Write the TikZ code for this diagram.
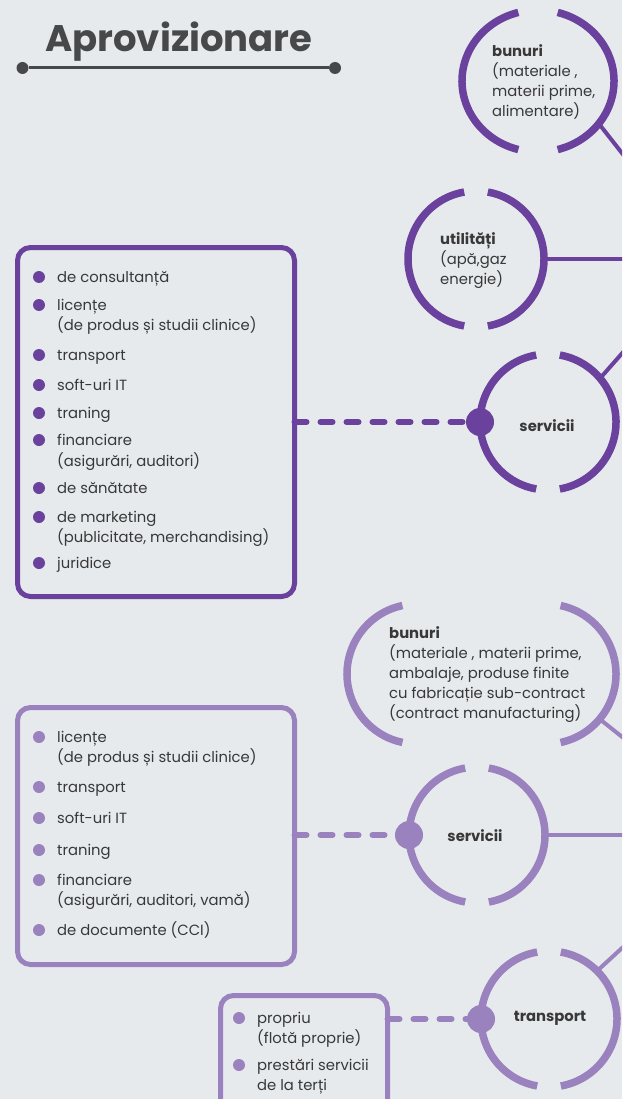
\documentclass[tikz,border=0pt]{standalone}
\usepackage{fontspec}
\setmainfont{Poppins}
\usetikzlibrary{shapes.geometric}
\definecolor{bgcol}{HTML}{E7EAED}
\definecolor{violetA}{HTML}{6A419D}
\definecolor{violetB}{HTML}{9A82BE}
\definecolor{inkcol}{HTML}{383838}
\definecolor{titlecol}{HTML}{474849}
\tikzset{ring/.style = {line width = 7.5, line cap = butt},
  link/.style = {line width = 4},
  dashlink/.style = {line width = 6, line cap = round, dash pattern = on 12 off 14},
  listbox/.style = {draw, line width = 5, rounded corners = 13, inner sep = 0, outer sep = 0},
  hole/.style = {circle, inner sep = 0, outer sep = 0, minimum size = 136},
  knob/.style = {fill, circle, inner sep = 0, minimum size = 28},
  blt/.style = {fill, circle, inner sep = 0, minimum size = 12},
  item/.style = {inner sep = 0, text = inkcol, font = \fontsize{14.8}{20}\selectfont},
  lbl/.style = {inner sep = 0, text = inkcol, align = left, font = \fontsize{14.8}{20}\selectfont},
  tag/.style = {inner sep = 0, text = inkcol, font = \fontsize{14.8}{20}\selectfont\bfseries}}
% ring with a gap at top and bottom: node, x radius, y radius, half gap, colour
\newcommand{\gapring}[5]{%
  \draw [ring, #5] (#1.center) ++(90+#4:#2 and #3) arc (90+#4:270-#4:#2 and #3);
  \draw [ring, #5] (#1.center) ++(-90+#4:#2 and #3) arc (-90+#4:90-#4:#2 and #3);
}

\begin{document}
\begin{tikzpicture}[x=1pt, y=1pt]
    \fill [bgcol] (0, 0) rectangle (622, -1099);
    \useasboundingbox (0, 0) rectangle (622, -1099);
    \clip (0, 0) rectangle (622, -1099);

    % title
    \node [anchor=base west, inner sep=0, text=titlecol, font=\fontsize{37}{44}\selectfont\bfseries] (title) at (45, -52) {Aprovizionare};
    \node [circle, fill=titlecol, inner sep=0, minimum size=12] (tl) at (22.5, -68) {};
    \node [circle, fill=titlecol, inner sep=0, minimum size=12] (tr) at (335, -68) {};
    \draw [titlecol, line width=3] (tl) -- (tr);

    % off-page hubs
    \coordinate (hubA) at (705, -259);
    \coordinate (hubB) at (745, -835);

    % first group
    \node [hole, ellipse, minimum width=152, minimum height=142] (bunA) at (538, -81) {};
    \node [hole] (util) at (476, -259) {};
    \node [hole] (servA) at (548, -422) {};
    \draw [link, violetA] (bunA.-35) -- (hubA);
    \draw [link, violetA] (util.east) -- (hubA);
    \draw [link, violetA] (servA.40) -- (hubA);
    \gapring{bunA}{76}{71}{15}{violetA}
    \gapring{util}{68}{68}{10}{violetA}
    \gapring{servA}{68}{68}{10}{violetA}

    \node [lbl, anchor=west] (tBunA) at (492, -82) {\textbf{bunuri}\\(materiale ,\\materii prime,\\alimentare)};
    \node [lbl, anchor=west] (tUtil) at (440, -261) {\textbf{utilități}\\(apă,gaz\\energie)};
    \node [tag] (tServA) at (547, -426) {servicii};

    \node [listbox, violetA, minimum width=277, minimum height=349] (listA) at (156, -422) {};
    \node [knob, violetA] (dotA) at (servA.west) {};
    \draw [dashlink, violetA] (listA.east |- dotA) -- (dotA);
    \foreach \y/\t [count=\i] in {282/{de consultanță}, 310/{licențe}, 330/{(de produs și studii clinice)}, 360/{transport}, 390/{soft-uri IT}, 418/{traning}, 445/{financiare}, 466/{(asigurări, auditori)}, 493/{de sănătate}, 522/{de marketing}, 542/{(publicitate, merchandising)}, 568/{juridice}}
      \node [item, anchor=base west] (a\i) at (57, -\y) {\t};
    \foreach \y [count=\i] in {277, 305, 355, 385, 413, 440, 488, 517, 563}
      \node [blt, violetA] (ba\i) at (39, -\y) {};

    % second group
    \node [hole, minimum size=140] (bunBw) at (417, -674) {};
    \node [hole, minimum size=140] (bunBe) at (546, -674) {};
    \node [hole] (servB) at (477, -835) {};
    \node [hole] (transp) at (549, -1019) {};
    \draw [link, violetB] (bunBe.-40) -- (hubB);
    \draw [link, violetB] (servB.east) -- (hubB);
    \draw [link, violetB] (transp.45) -- (hubB);
    \draw [ring, violetB] (bunBw.center) ++(102:70) arc (102:258:70);
    \draw [ring, violetB] (bunBe.center) ++(-78:70) arc (-78:78:70);
    \gapring{servB}{68}{68}{10}{violetB}
    \gapring{transp}{68}{68}{10}{violetB}

    \node [lbl, anchor=west] (tBunB) at (389, -675) {\textbf{bunuri}\\(materiale , materii prime,\\ambalaje, produse finite\\cu fabricație sub-contract\\(contract manufacturing)};
    \node [tag] (tServB) at (475, -836) {servicii};
    \node [tag] (tTransp) at (550, -1018) {transport};

    \node [listbox, violetB, minimum width=277, minimum height=257] (listB) at (156, -836) {};
    \node [knob, violetB] (dotB) at (servB.west) {};
    \draw [dashlink, violetB] (listB.east |- dotB) -- (dotB);
    \foreach \y/\t [count=\i] in {742/{licențe}, 762/{(de produs și studii clinice)}, 792/{transport}, 823/{soft-uri IT}, 855/{traning}, 885/{financiare}, 905/{(asigurări, auditori, vamă)}, 935/{de documente (CCI)}}
      \node [item, anchor=base west] (b\i) at (57, -\y) {\t};
    \foreach \y [count=\i] in {737, 787, 818, 850, 880, 930}
      \node [blt, violetB] (bb\i) at (39, -\y) {};

    \node [listbox, violetB, minimum width=167, minimum height=130] (listC) at (304, -1060.5) {};
    \node [knob, violetB] (dotC) at (transp.west) {};
    \draw [dashlink, violetB] (listC.east |- dotC) -- (dotC);
    \foreach \y/\t [count=\i] in {1023/{propriu}, 1043/{(flotă proprie)}, 1070/{prestări servicii}, 1090/{de la terți}}
      \node [item, anchor=base west] (c\i) at (257, -\y) {\t};
    \foreach \y [count=\i] in {1018, 1065}
      \node [blt, violetB] (bc\i) at (239, -\y) {};
\end{tikzpicture}
\end{document}
